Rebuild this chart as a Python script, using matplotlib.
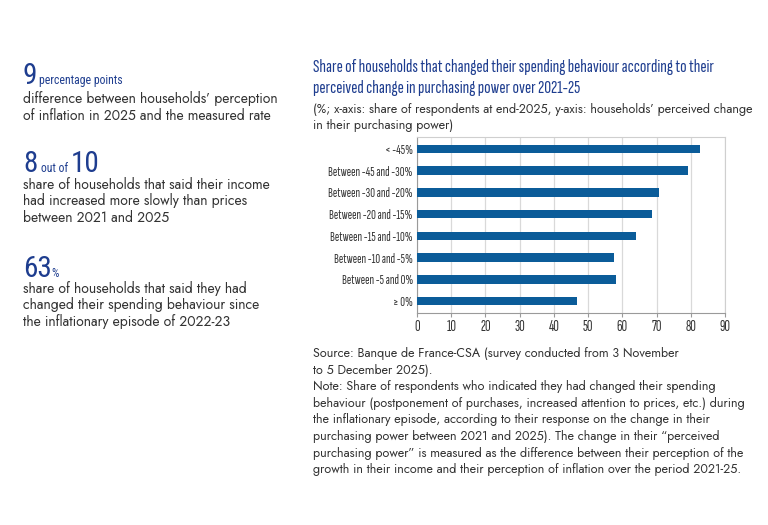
import numpy as np
import matplotlib.pyplot as plt

# Data
categories = ["< -45%", "Between -45 and -30%", "Between -30 and -20%", "Between -20 and -15%",
              "Between -15 and -10%", "Between -10 and -5%", "Between -5 and 0%", "\u2265 0%"]
values = [82.7, 79.2, 70.8, 68.8, 64.1, 57.7, 58.2, 46.8]
x_ticks = [0, 10, 20, 30, 40, 50, 60, 70, 80, 90]

BLUE_TXT = "#1e3d8f"
BAR = "#0b5c99"
GREY = "#333333"

NARROW = ["Roboto Condensed", "DejaVu Sans"]
XNARROW = ["Sofia Sans Extra Condensed", "Roboto Condensed", "DejaVu Sans"]
BODY = ["Jost", "DejaVu Sans"]

W, H = 768, 525
fig = plt.figure(figsize=(W / 100, H / 100), dpi=100)


def px(x, y):
    return x / W, 1 - y / H


def put(x, y, s, **kw):
    fig.text(*px(x, y), s, va="baseline", ha="left", **kw)


def put_lines(x, y, lines, dy, **kw):
    for i, line in enumerate(lines):
        put(x, y + i * dy, line, **kw)


body = dict(fontsize=10, color=GREY, family=BODY)
big = dict(fontsize=21, color=BLUE_TXT, family=NARROW)
small = dict(fontsize=8.5, color=BLUE_TXT, family=NARROW)

# Left panel: key figures
put(23, 84, "9", **big)
put(39, 84, "percentage points", **small)
put_lines(23, 103, ["difference between households\u2019 perception",
                    "of inflation in 2025 and the measured rate"], 16.5, **body)

put(23, 172, "8", **big)
put(41, 172, "out of", **small)
put(71, 172, "10", **big)
put_lines(23, 189, ["share of households that said their income",
                    "had increased more slowly than prices",
                    "between 2021 and 2025"], 16.5, **body)

put(23, 277, "63", **big)
put(51.5, 277, "%", **small)
put_lines(23, 293, ["share of households that said they had",
                    "changed their spending behaviour since",
                    "the inflationary episode of 2022-23"], 16.5, **body)

# Chart title and subtitle
put_lines(313, 72, ["Share of households that changed their spending behaviour according to their",
                    "perceived change in purchasing power over 2021-25"], 20.5,
          fontsize=13.6, color=BLUE_TXT, family=XNARROW, fontweight="medium")
put_lines(313, 113, ["(%; x-axis: share of respondents at end-2025, y-axis: households\u2019 perceived change",
                     "in their purchasing power)"], 16, fontsize=9, color=GREY, family=BODY)

# Bar chart
ax = fig.add_axes([417 / W, 1 - 313 / H, (725 - 417) / W, (313 - 137) / H])
y = np.arange(len(categories))
ax.barh(y, values, height=0.4, color=BAR, zorder=3)
ax.set_ylim(len(categories) - 0.45, -0.55)
ax.set_xlim(0, 90)
ax.set_xticks(x_ticks)
ax.set_yticks(y)
ax.set_yticklabels(categories, family=XNARROW, fontsize=9.6, color=GREY)
for lab in ax.get_xticklabels():
    lab.set_family(XNARROW)
    lab.set_fontsize(11)
    lab.set_color(GREY)
ax.grid(axis="x", color="#d9d9d9", linewidth=0.9, zorder=0)
for s in ["top", "right"]:
    ax.spines[s].set_color("#cfcfcf")
for s in ["left", "bottom"]:
    ax.spines[s].set_color("#9a9a9a")
ax.tick_params(axis="y", length=0, pad=3)
ax.tick_params(axis="x", length=3, color="#9a9a9a", pad=2)

# Source and note
put_lines(313, 357, ["Source: Banque de France-CSA (survey conducted from 3 November",
                     "to 5 December 2025).",
                     "Note: Share of respondents who indicated they had changed their spending",
                     "behaviour (postponement of purchases, increased attention to prices, etc.) during",
                     "the inflationary episode, according to their response on the change in their",
                     "purchasing power between 2021 and 2025). The change in their \u201cperceived",
                     "purchasing power\u201d is measured as the difference between their perception of the",
                     "growth in their income and their perception of inflation over the period 2021-25."],
          16.6, fontsize=9, color=GREY, family=BODY)

fig.savefig("out.png", dpi=100)
